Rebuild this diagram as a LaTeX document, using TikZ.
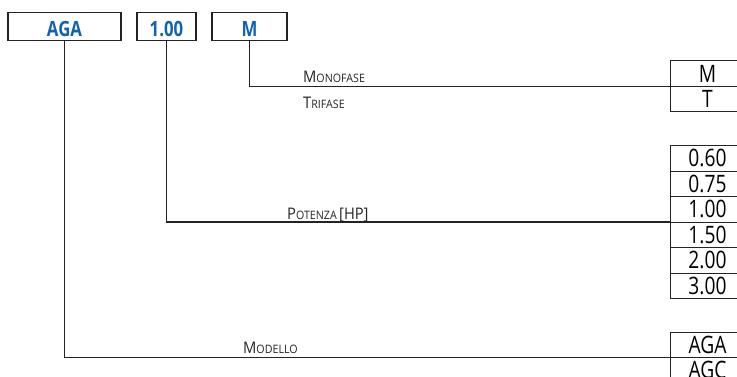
\documentclass[tikz,border=0pt]{standalone}
\usepackage{fontspec}
\setmainfont{Open Sans}
\newfontfamily\condfont[FakeStretch=0.8]{Open Sans}
\newfontfamily\captfont[FakeStretch=0.92]{Open Sans}
\usetikzlibrary{positioning}

\definecolor{codeblue}{RGB}{18,98,178}
\definecolor{linegray}{RGB}{35,35,35}

% fake small caps: big initial, small rest
\newcommand{\smc}[2]{{\fontsize{16}{16}\selectfont #1}{\fontsize{11.6}{12}\selectfont #2}}

\tikzset{
	codebox/.style={draw=linegray, line width=1.1pt, outer sep=0pt, minimum height=28pt, inner sep=0pt,
		text height=19.5pt, text depth=0pt, text=codeblue, font=\condfont\bfseries\fontsize{21}{21}\selectfont},
	rowbox/.style={draw=linegray, line width=1pt, outer sep=0pt, minimum width=75pt, minimum height=25.5pt,
		inner sep=0pt, text height=17.3pt, text depth=0pt, font=\condfont\fontsize{24}{24}\selectfont},
	leader/.style={draw=linegray, line width=1.6pt},
	caption/.style={anchor=base west, inner sep=0pt, text=linegray, font=\captfont},
}

\begin{document}
\begin{tikzpicture}[x=1pt, y=-1pt]
	\useasboundingbox (0,0) rectangle (737,376);
	% code boxes
	\node [codebox, minimum width=113pt] (aga) at (64.5, 26.5) {AGA};
	\node [codebox, minimum width=59pt] (pot) at (166.5, 26.5) {1.00};
	\node [codebox, minimum width=75pt] (fase) at (249.5, 26.5) {M};
	% phase rows
	\node [rowbox, anchor=north west] (mrow) at (670, 60.8) {M};
	\node [rowbox, below=0pt of mrow] (trow) {T};
	% power rows
	\node [rowbox, anchor=north west] (p060) at (670, 145.5) {0.60};
	\node [rowbox, below=0pt of p060] (p075) {0.75};
	\node [rowbox, below=0pt of p075] (p100) {1.00};
	\node [rowbox, below=0pt of p100] (p150) {1.50};
	\node [rowbox, below=0pt of p150] (p200) {2.00};
	\node [rowbox, below=0pt of p200] (p300) {3.00};
	% model rows
	\node [rowbox, anchor=north west] (maga) at (670, 332) {AGA};
	\node [rowbox, below=0pt of maga] (magc) {AGC};
	% leaders
	\draw [leader] (fase.south) |- (mrow.south west);
	\draw [leader] (pot.south) |- (p100.south west);
	\draw [leader] (aga.south) |- (maga.south west);
	% captions
	\node [caption] (monolbl) at (303, 82.3) {\smc{M}{ONOFASE}};
	\node [caption] (trilbl) at (303, 108) {\smc{T}{RIFASE}};
	\node [caption] (potlbl) at (287, 219) {\smc{P}{OTENZA} {\fontsize{16}{16}\selectfont [HP]}};
	\node [caption] (modlbl) at (243, 353) {\smc{M}{ODELLO}};
\end{tikzpicture}
\end{document}
